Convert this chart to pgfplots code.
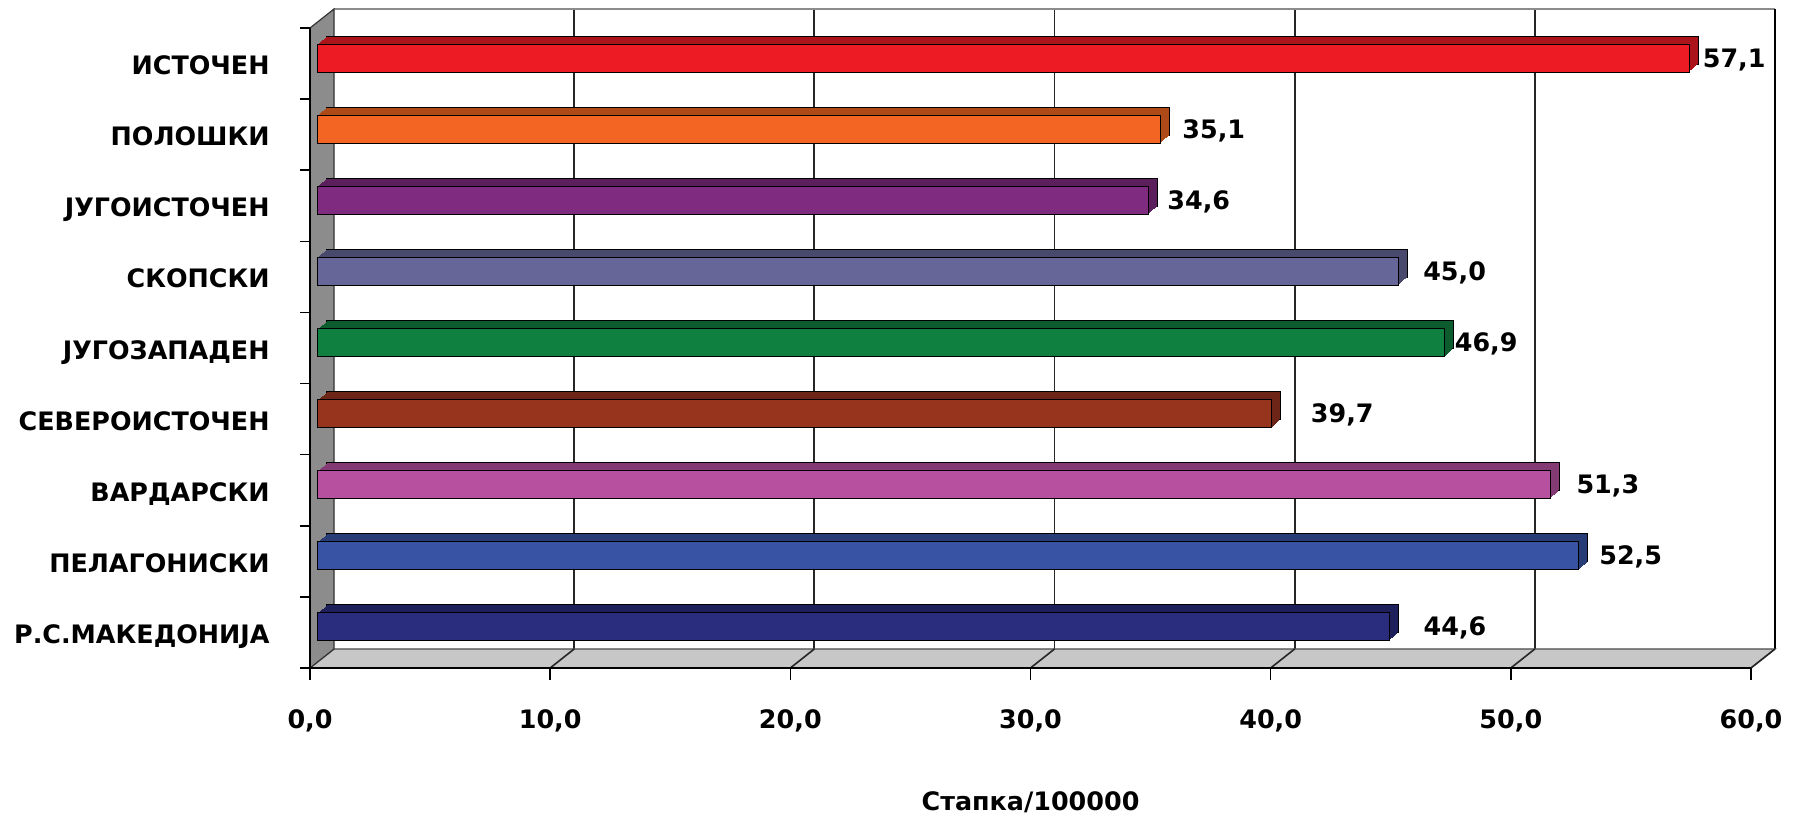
\documentclass[border=0pt]{standalone}
\usepackage{pgfplots}
\pgfplotsset{compat=1.18}
\usepackage{fontspec}
\setmainfont{DejaVu Sans}
\definecolor{cIst}{HTML}{ED1C24}
\definecolor{cPol}{HTML}{F26522}
\definecolor{cJui}{HTML}{7E2B80}
\definecolor{cSko}{HTML}{666699}
\definecolor{cJuz}{HTML}{108040}
\definecolor{cSev}{HTML}{96341E}
\definecolor{cVar}{HTML}{B7509F}
\definecolor{cPel}{HTML}{3853A4}
\definecolor{cMak}{HTML}{2A2C7E}
\newcommand{\lblfont}{\bfseries\fontsize{12.7pt}{14pt}\selectfont}
\pgfplotsset{
  back/.style 2 args={xbar, bar width=14pt, bar shift=0pt, draw=none,
    fill=#1!72!black, xshift={4pt+#2*0.5625pt}, yshift={2.75pt+#2*0.5pt}},
  backline/.style={xbar, bar width=14pt, bar shift=0pt, draw=black, line width=0.5pt,
    fill=#1!72!black, xshift=8.5pt, yshift=6.75pt},
  front/.style 2 args={xbar, bar width=14pt, bar shift=0pt, fill=#1, draw=black,
    line width=0.5pt, xshift=4pt, yshift=2.75pt, point meta=x,
    nodes near coords,
    every node near coord/.append style={anchor=west, inner sep=0pt, xshift=#2,
      font=\lblfont, text=black, text height=9pt, text depth=0pt}},
}
\begin{document}
\begin{tikzpicture}
\useasboundingbox (0,0) rectangle (897pt,409pt);
\begin{axis}[
  at={(155pt,75pt)}, anchor=south west,
  scale only axis, width=720.5pt, height=320pt,
  xmin=0, xmax=60, ymin=0, ymax=9,
  clip=false, axis on top,
  axis x line*=bottom, axis y line*=left,
  axis line style={line width=0.8pt, black, -},
  xtick={0,10,...,60},
  xticklabels={{0,0},{10,0},{20,0},{30,0},{40,0},{50,0},{60,0}},
  ytick={0.5,1.5,...,8.5},
  yticklabels={Р.С.МАКЕДОНИЈА, ПЕЛАГОНИСКИ, ВАРДАРСКИ, СЕВЕРОИСТОЧЕН, ЈУГОЗАПАДЕН, СКОПСКИ, ЈУГОИСТОЧЕН, ПОЛОШКИ, ИСТОЧЕН},
  minor ytick={0,...,9},
  tick align=outside,
  major tick length=6pt, minor tick length=5pt,
  major x tick style={line width=0.8pt, black},
  major y tick style={draw=none},
  minor y tick style={line width=0.8pt, black},
  ticklabel style={font=\lblfont, inner sep=0pt, text height=9pt, text depth=0pt},
  xticklabel style={anchor=north, yshift=-15pt},
  yticklabel style={anchor=east, xshift=-14pt, yshift=-1pt},
  xlabel={Стапка/100000},
  xlabel style={font=\lblfont, at={(axis description cs:0.5,0)}, anchor=center,
    yshift=-67pt, inner sep=0pt, text height=9pt, text depth=0pt},
  /pgf/number format/.cd, use comma, fixed, fixed zerofill, precision=1, assume math mode=true,
]
% back wall
\fill[white] ([shift={(12pt,9.5pt)}]axis cs:0,0) rectangle ([shift={(12pt,9.5pt)}]axis cs:60,9);
\pgfplotsinvokeforeach{10,20,30,40,50}{
  \draw[black!85, line width=0.9pt] ([shift={(12pt,9.5pt)}]axis cs:#1,0) -- ([shift={(12pt,9.5pt)}]axis cs:#1,9);
}
\draw[black!45, line width=0.8pt] ([shift={(12pt,9.5pt)}]axis cs:0,9) -- ([shift={(12pt,9.5pt)}]axis cs:60,9);
\draw[black, line width=0.9pt] ([shift={(12pt,9.5pt)}]axis cs:60,9) -- ([shift={(12pt,9.5pt)}]axis cs:60,0);
% floor
\filldraw[fill=black!22, draw=black!70, line width=0.6pt] (axis cs:0,0) -- (axis cs:60,0) -- ([shift={(12pt,9.5pt)}]axis cs:60,0) -- ([shift={(12pt,9.5pt)}]axis cs:0,0) -- cycle;
\pgfplotsinvokeforeach{10,20,30,40,50,60}{
  \draw[black!85, line width=0.8pt] (axis cs:#1,0) -- ([shift={(12pt,9.5pt)}]axis cs:#1,0);
}
% left wall
\filldraw[fill=black!45, draw=black!80, line width=0.6pt] (axis cs:0,0) -- (axis cs:0,9) -- ([shift={(12pt,9.5pt)}]axis cs:0,9) -- ([shift={(12pt,9.5pt)}]axis cs:0,0) -- cycle;

% ИСТОЧЕН
\addplot[backline=cIst] coordinates {(57.1,8.5)};
\pgfplotsinvokeforeach{7,6,...,1}{\addplot[back={cIst}{#1}] coordinates {(57.1,8.5)};}
\addplot[front={cIst}{6.5pt}] coordinates {(57.1,8.5)};
% ПОЛОШКИ
\addplot[backline=cPol] coordinates {(35.1,7.5)};
\pgfplotsinvokeforeach{7,6,...,1}{\addplot[back={cPol}{#1}] coordinates {(35.1,7.5)};}
\addplot[front={cPol}{10.5pt}] coordinates {(35.1,7.5)};
% ЈУГОИСТОЧЕН
\addplot[backline=cJui] coordinates {(34.6,6.5)};
\pgfplotsinvokeforeach{7,6,...,1}{\addplot[back={cJui}{#1}] coordinates {(34.6,6.5)};}
\addplot[front={cJui}{9pt}] coordinates {(34.6,6.5)};
% СКОПСКИ
\addplot[backline=cSko] coordinates {(45.0,5.5)};
\pgfplotsinvokeforeach{7,6,...,1}{\addplot[back={cSko}{#1}] coordinates {(45.0,5.5)};}
\addplot[front={cSko}{12pt}] coordinates {(45.0,5.5)};
% ЈУГОЗАПАДЕН
\addplot[backline=cJuz] coordinates {(46.9,4.5)};
\pgfplotsinvokeforeach{7,6,...,1}{\addplot[back={cJuz}{#1}] coordinates {(46.9,4.5)};}
\addplot[front={cJuz}{5pt}] coordinates {(46.9,4.5)};
% СЕВЕРОИСТОЧЕН
\addplot[backline=cSev] coordinates {(39.7,3.5)};
\pgfplotsinvokeforeach{7,6,...,1}{\addplot[back={cSev}{#1}] coordinates {(39.7,3.5)};}
\addplot[front={cSev}{19.5pt}] coordinates {(39.7,3.5)};
% ВАРДАРСКИ
\addplot[backline=cVar] coordinates {(51.3,2.5)};
\pgfplotsinvokeforeach{7,6,...,1}{\addplot[back={cVar}{#1}] coordinates {(51.3,2.5)};}
\addplot[front={cVar}{13pt}] coordinates {(51.3,2.5)};
% ПЕЛАГОНИСКИ
\addplot[backline=cPel] coordinates {(52.5,1.5)};
\pgfplotsinvokeforeach{7,6,...,1}{\addplot[back={cPel}{#1}] coordinates {(52.5,1.5)};}
\addplot[front={cPel}{10pt}] coordinates {(52.5,1.5)};
% Р.С.МАКЕДОНИЈА
\addplot[backline=cMak] coordinates {(44.6,0.5)};
\pgfplotsinvokeforeach{7,6,...,1}{\addplot[back={cMak}{#1}] coordinates {(44.6,0.5)};}
\addplot[front={cMak}{17pt}] coordinates {(44.6,0.5)};
\end{axis}
\end{tikzpicture}
\end{document}
